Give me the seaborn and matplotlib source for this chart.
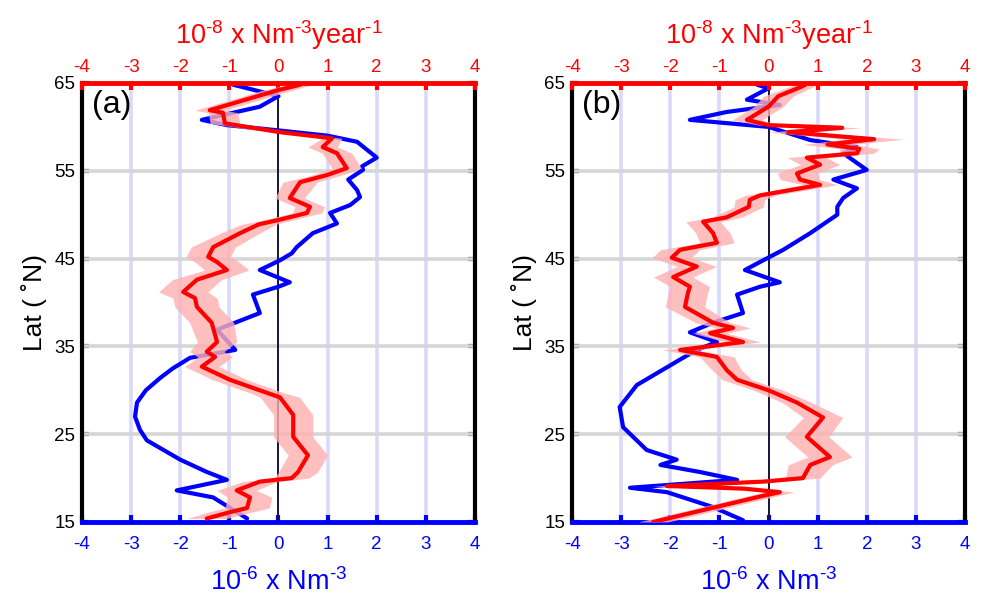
import numpy as np
import matplotlib
matplotlib.use("Agg")
import matplotlib.pyplot as plt
import seaborn as sns

# ---------------- data ----------------
a_blue_lat = [64.8, 63.5, 62.3, 60.8, 60.2, 59.6, 59.0, 58.3, 57.4, 56.5, 55.5, 55.1, 54.0, 52.8, 52.0,
              51.1, 50.2, 49.0, 47.9, 46.3, 45.6, 44.8, 43.7, 42.3, 41.8, 40.9, 38.8, 36.9, 34.6, 33.7,
              32.5, 31.4, 30.0, 28.6, 27.0, 25.5, 24.3, 22.1, 20.7, 19.8, 18.6, 17.8, 15.4]
a_blue_x = [-0.92, 0.0, -0.38, -1.56, -1.05, 0.0, 1.0, 1.6, 1.8, 2.0, 1.7, 1.72, 1.42, 1.6, 1.66,
            1.46, 1.05, 1.19, 0.7, 0.37, 0.27, 0.03, -0.38, 0.23, 0.0, -0.52, -0.38, -1.25, -0.88, -1.8,
            -2.15, -2.41, -2.7, -2.88, -2.92, -2.82, -2.68, -2.0, -1.46, -1.05, -2.07, -1.33, -0.64]

a_red_lat = [64.8, 64.2, 61.9, 61.6, 60.4, 59.4, 58.7, 57.7, 57.0, 55.3, 54.5, 53.7, 51.9, 50.9, 50.2,
             49.4, 48.9, 47.9, 46.3, 45.2, 44.6, 43.7, 42.6, 41.2, 40.5, 39.5, 37.7, 35.5, 34.4, 33.8,
             32.7, 31.2, 29.7, 29.2, 27.2, 24.7, 22.6, 20.7, 20.0, 19.6, 18.6, 17.8, 16.6, 16.1, 15.4]
a_red_x = [0.44, 0.0, -1.4, -1.13, -1.09, 0.03, 1.09, 0.9, 1.19, 1.39, 0.98, 0.44, 0.23, 0.64, 0.58,
           0.0, -0.4, -0.78, -1.33, -1.43, -1.25, -1.05, -1.66, -1.94, -1.7, -1.66, -1.36, -1.25, -1.46, -1.29,
           -1.56, -0.99, -0.23, 0.03, 0.3, 0.3, 0.6, 0.4, 0.27, -0.38, -0.85, -0.58, -0.64, -1.0, -1.46]
a_red_err = [0.25, 0.3, 0.3, 0.3, 0.3, 0.2, 0.2, 0.3, 0.3, 0.3, 0.3, 0.35, 0.3, 0.3, 0.3,
             0.3, 0.35, 0.4, 0.45, 0.45, 0.45, 0.45, 0.5, 0.5, 0.45, 0.45, 0.45, 0.4, 0.35, 0.35,
             0.35, 0.35, 0.35, 0.4, 0.4, 0.4, 0.4, 0.4, 0.35, 0.35, 0.4, 0.45, 0.45, 0.45, 0.4]

b_blue_lat = [64.8, 64.4, 63.1, 62.7, 62.5, 61.7, 60.8, 60.0, 58.5, 57.7, 57.0, 55.1, 54.0, 53.0, 51.9,
              50.9, 50.0, 49.2, 47.9, 46.0, 44.8, 43.7, 42.3, 41.8, 40.9, 38.8, 37.7, 36.6, 35.5, 34.6,
              33.5, 30.6, 28.1, 25.8, 23.2, 22.1, 21.5, 20.7, 19.8, 18.9, 18.4, 16.7, 15.2]
b_blue_x = [-0.23, 0.0, -0.44, 0.0, 0.23, -0.85, -1.6, 0.0, 0.85, 1.8, 1.52, 2.0, 1.32, 1.8, 1.52,
            1.4, 1.4, 1.19, 0.85, 0.3, -0.11, -0.48, 0.23, -0.17, -0.64, -0.52, -1.13, -1.6, -1.05, -1.46,
            -1.8, -2.68, -3.03, -2.96, -2.48, -1.87, -2.2, -1.4, -0.64, -2.82, -2.07, -1.13, -0.52]

b_red_lat = [64.8, 64.5, 63.5, 62.3, 60.8, 60.2, 59.9, 59.4, 58.6, 58.0, 57.5, 57.0, 56.5, 55.7, 54.7,
             54.0, 53.4, 52.2, 51.7, 50.9, 49.7, 49.2, 47.9, 46.8, 46.0, 45.1, 44.1, 42.9, 41.8, 41.1,
             39.5, 37.7, 37.1, 36.5, 35.5, 34.6, 33.8, 32.3, 31.2, 30.0, 28.6, 26.9, 24.7, 22.4, 21.5,
             20.0, 19.6, 19.1, 18.8, 18.4, 18.0, 15.0]
b_red_x = [0.75, 0.64, 0.2, 0.0, -0.44, 0.0, 1.5, 0.4, 2.15, 1.2, 1.85, 1.8, 0.78, 1.05, 0.58,
           0.64, 1.05, -0.17, -0.38, -0.4, -0.85, -1.33, -1.13, -1.05, -1.8, -1.97, -1.46, -1.94, -1.6, -1.64,
           -1.7, -1.13, -0.72, -1.19, -0.52, -1.8, -1.05, -0.85, -0.64, 0.0, 0.58, 1.11, 0.78, 1.25, 0.85,
           0.7, -0.1, -2.07, -0.5, 0.23, -0.1, -2.35]
b_red_err = [0.2, 0.25, 0.3, 0.3, 0.3, 0.2, 0.4, 0.4, 0.6, 0.5, 0.4, 0.35, 0.4, 0.4, 0.4,
             0.4, 0.35, 0.3, 0.3, 0.3, 0.3, 0.35, 0.35, 0.35, 0.4, 0.4, 0.4, 0.4, 0.4, 0.4,
             0.4, 0.35, 0.35, 0.35, 0.35, 0.35, 0.35, 0.3, 0.3, 0.3, 0.3, 0.4, 0.45, 0.45, 0.45,
             0.35, 0.3, 0.3, 0.3, 0.3, 0.3, 0.3]

x_ticks = [-4, -3, -2, -1, 0, 1, 2, 3, 4]
lat_ticks = [15, 25, 35, 45, 55, 65]
panel_labels = ["(a)", "(b)"]
bottom_label = r"10$^{\text{-6}}$ x Nm$^{\text{-3}}$"
top_label = r"10$^{\text{-8}}$ x Nm$^{\text{-3}}$year$^{\text{-1}}$"
y_label = "Lat ( \u02daN)"

# ---------------- style ----------------
sns.set_theme(style="white")
plt.rcParams["font.family"] = ["Liberation Sans", "DejaVu Sans"]
plt.rcParams["mathtext.default"] = "regular"
plt.rcParams["mathtext.fontset"] = "custom"
plt.rcParams["mathtext.rm"] = "Liberation Sans"
plt.rcParams["mathtext.it"] = "Liberation Sans"
plt.rcParams["mathtext.bf"] = "Liberation Sans"
plt.rcParams["axes.unicode_minus"] = False

BLUE = "#0000ff"
RED = "#ff0000"

fig = plt.figure(figsize=(9.83, 6.0), dpi=100)
positions = [[0.0834, 0.13, 0.3998, 0.7317], [0.5819, 0.13, 0.3998, 0.7317]]

panels = [
    (a_blue_lat, a_blue_x, a_red_lat, a_red_x, a_red_err),
    (b_blue_lat, b_blue_x, b_red_lat, b_red_x, b_red_err),
]

for i, (bl, bx, rl, rx, re) in enumerate(panels):
    ax = fig.add_axes(positions[i])
    ax.set_xlim(-4, 4)
    ax.set_ylim(15, 65)

    for v in [-3, -2, -1, 1, 2, 3]:
        ax.axvline(v, color="#d9d9fd", lw=2.6, zorder=0.5)
    for h in [25, 35, 45, 55]:
        ax.axhline(h, color="#d6d6d6", lw=2.6, zorder=0.6)
    ax.axvline(0, color="#14143a", lw=1.4, zorder=1.5)

    sns.lineplot(x=np.array(bx), y=np.array(bl), sort=False, estimator=None,
                 color=BLUE, lw=3, ax=ax, zorder=3)
    ax.set_xlim(-4, 4)
    ax.set_ylim(15, 65)
    ax.set_xticks(x_ticks)
    ax.set_yticks(lat_ticks)
    ax.tick_params(axis="x", direction="in", colors=BLUE, length=5, width=3,
                   labelsize=13.5, pad=10, bottom=True)
    ax.tick_params(axis="y", direction="in", colors="black", length=5, width=3,
                   labelsize=13.5, pad=5, left=True, right=True)
    ax.set_xlabel(bottom_label, color=BLUE, fontsize=19.5, labelpad=11)
    ax.set_ylabel(y_label, color="black", fontsize=19, labelpad=5)
    ax.spines["top"].set_visible(False)
    ax.spines["bottom"].set_color(BLUE)
    ax.spines["bottom"].set_linewidth(3.5)
    for s in ["left", "right"]:
        ax.spines[s].set_color("black")
        ax.spines[s].set_linewidth(3.0)

    ax2 = ax.twiny()
    rl_arr = np.array(rl)
    rx_arr = np.array(rx)
    re_arr = np.array(re)
    ax2.fill_betweenx(rl_arr, rx_arr - re_arr, rx_arr + re_arr,
                      color="#ffb0b0", alpha=0.8, lw=0, zorder=2)
    sns.lineplot(x=rx_arr, y=rl_arr, sort=False, estimator=None,
                 color=RED, lw=3, ax=ax2, zorder=4)
    ax2.set_xlim(-4, 4)
    ax2.set_ylim(15, 65)
    ax2.set_xticks(x_ticks)
    ax2.tick_params(axis="x", direction="in", colors=RED, length=5, width=3,
                    labelsize=13.5, pad=5, top=True)
    ax2.set_xlabel(top_label, color=RED, fontsize=19.5, labelpad=11)
    ax2.set_ylabel("")
    for s in ["left", "right", "bottom"]:
        ax2.spines[s].set_visible(False)
    ax2.spines["top"].set_color(RED)
    ax2.spines["top"].set_linewidth(3.5)

    ax2.text(0.025, 0.985, panel_labels[i], transform=ax.transAxes,
             ha="left", va="top", fontsize=23, color="black", zorder=6)

fig.savefig("out.png", dpi=100)
